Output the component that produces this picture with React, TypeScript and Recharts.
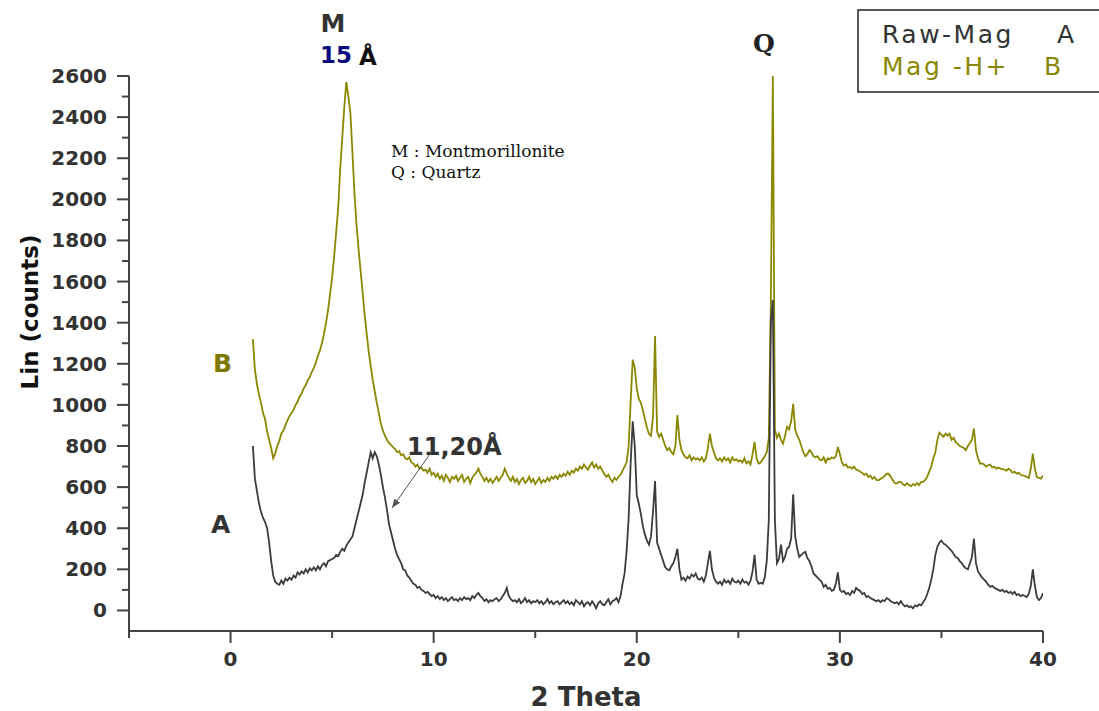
import { LineChart, Line, XAxis, YAxis } from 'recharts';

// 2θ sampling of the scans (degrees)
const THETA_START = 1.1;
const THETA_STEP = 0.1;

// Raw-Mag (A), counts, one row per degree
const rawMag = [
  800, 640, 580, 520, 480, 450, 430, 400, 330, 240,
  170, 140, 130, 125, 145, 130, 155, 145, 160, 150,
  170, 160, 185, 175, 190, 180, 200, 185, 205, 195,
  210, 195, 215, 200, 220, 230, 215, 240, 245, 250,
  255, 270, 265, 285, 300, 290, 315, 330, 345, 360,
  400, 440, 480, 520, 560, 620, 670, 720, 770, 740,
  770, 750, 710, 660, 600, 550, 490, 420, 380, 340,
  300, 270, 250, 230, 200, 195, 170, 160, 145, 130,
  125, 110, 115, 100, 95, 85, 90, 80, 70, 75,
  60, 70, 55, 65, 50, 60, 45, 55, 65, 50,
  55, 45, 60, 50, 65, 55, 60, 50, 70, 60,
  75, 85, 70, 60, 45, 55, 40, 50, 45, 55,
  60, 45, 55, 70, 85, 110, 70, 55, 45, 50,
  40, 55, 35, 45, 60, 40, 50, 35, 45, 40,
  50, 35, 45, 30, 40, 55, 35, 45, 30, 40,
  45, 30, 40, 50, 35, 45, 30, 40, 25, 50,
  40, 30, 45, 20, 35, 40, 25, 45, 30, 10,
  35, 45, 30, 25, 40, 55, 30, 45, 50, 60,
  40, 70, 130, 180, 290, 450, 720, 920, 800, 560,
  520, 470, 410, 370, 340, 320, 360, 480, 630, 330,
  300, 270, 240, 210, 200, 195, 215, 230, 260, 300,
  200, 150, 160, 145, 165, 155, 175, 165, 180, 155,
  150, 160, 140, 170, 230, 290, 200, 160, 140, 130,
  140, 125, 150, 135, 145, 130, 155, 140, 135, 145,
  130, 150, 135, 140, 125, 145, 190, 270, 150, 130,
  135, 130, 160, 240, 440, 1400, 1510, 440, 230, 250,
  320, 240, 260, 300, 310, 350, 565, 360, 300, 260,
  270, 280, 285, 255, 240, 215, 180, 170, 160, 150,
  140, 115, 125, 105, 110, 95, 100, 130, 185, 100,
  90, 95, 80, 85, 75, 95, 85, 110, 100, 95,
  80, 85, 65, 70, 60, 55, 50, 45, 50, 40,
  50, 45, 60, 55, 45, 40, 35, 40, 30, 45,
  30, 20, 25, 16, 20, 10, 25, 20, 30, 25,
  40, 55, 80, 110, 150, 200, 270, 310, 330, 340,
  325, 320, 310, 300, 290, 275, 260, 255, 240, 230,
  215, 205, 200, 230, 260, 349, 230, 190, 175, 160,
  150, 140, 125, 115, 120, 110, 105, 100, 95, 100,
  90, 95, 85, 90, 80, 90, 75, 80, 70, 75,
  70, 65, 80, 120, 200, 120, 65, 50, 60, 85,
];

// Mag -H+ (B), counts
const magH = [
  1320, 1170, 1100, 1050, 1010, 960, 930, 870, 830, 790,
  740, 765, 800, 825, 860, 875, 900, 925, 945, 960,
  975, 1000, 1015, 1040, 1055, 1080, 1095, 1120, 1135, 1160,
  1180, 1205, 1240, 1265, 1300, 1345, 1400, 1460, 1540, 1620,
  1720, 1840, 1960, 2150, 2300, 2450, 2570, 2500, 2420, 2230,
  2030, 1880, 1760, 1655, 1550, 1440, 1350, 1260, 1190, 1120,
  1065, 1010, 960, 910, 876, 850, 830, 815, 805, 795,
  785, 770, 775, 755, 760, 740, 735, 745, 720, 715,
  700, 710, 690, 695, 680, 685, 670, 690, 660, 670,
  650, 665, 640, 655, 630, 660, 645, 625, 650, 640,
  655, 630, 645, 660, 625, 640, 650, 620, 645, 660,
  670, 690, 665, 650, 630, 645, 625, 640, 620, 635,
  650, 630, 645, 660, 690, 665, 645, 630, 650, 625,
  640, 615, 635, 645, 620, 630, 650, 625, 640, 615,
  630, 645, 620, 635, 625, 645, 630, 650, 640, 655,
  640, 660, 650, 665, 655, 675, 660, 680, 670, 690,
  680, 700, 690, 710, 695, 685, 705, 720, 695, 710,
  690, 700, 680, 665, 650, 660, 640, 625, 645, 635,
  650, 660, 680, 700, 720, 800, 1020, 1220, 1180, 1080,
  1030, 1010, 975, 930, 890, 860, 850, 940, 1335, 870,
  845, 860, 830, 800, 780, 790, 770, 760, 800, 950,
  830, 780, 760, 745, 740, 755, 730, 745, 735, 740,
  730, 745, 725, 740, 790, 860, 800, 770, 740, 730,
  740, 725, 745, 730, 740, 720, 745, 730, 735, 725,
  730, 720, 740, 715, 725, 710, 760, 820, 740, 715,
  720, 735, 750, 770, 840, 1500, 2600, 880, 840, 860,
  830, 812, 850, 893, 880, 920, 1005, 880, 850, 830,
  800, 770, 750, 760, 780, 770, 750, 745, 750, 735,
  730, 745, 720, 740, 735, 745, 740, 750, 795, 760,
  720, 705, 710, 695, 698, 690, 700, 685, 682, 675,
  670, 660, 665, 649, 655, 640, 650, 635, 633, 640,
  645, 655, 665, 665, 650, 635, 620, 617, 625, 625,
  615, 608, 620, 610, 605, 615, 609, 620, 610, 625,
  625, 635, 650, 675, 700, 740, 770, 830, 865, 855,
  845, 860, 850, 860, 830, 840, 820, 810, 800, 795,
  790, 780, 800, 815, 830, 885, 780, 740, 714, 715,
  710, 700, 706, 710, 695, 700, 690, 695, 690, 688,
  685, 680, 690, 682, 670, 675, 665, 670, 660, 657,
  655, 650, 645, 690, 763, 690, 649, 645, 641, 657,
];

const xTicks = [-5, 0, 5, 10, 15, 20, 25, 30, 35, 40];
const xLabelled = [0, 10, 20, 30, 40];
const yTicks = [
  0, 100, 200, 300, 400, 500, 600, 700, 800, 900, 1000, 1100, 1200, 1300,
  1400, 1500, 1600, 1700, 1800, 1900, 2000, 2100, 2200, 2300, 2400, 2500, 2600,
];

const data = rawMag.map((a, i) => ({
  theta: Math.round((THETA_START + i * THETA_STEP) * 10) / 10,
  a,
  b: magH[i],
}));

const AXIS = '#444';
const GREY = '#3c3c3c';
const OLIVE = '#8a8800';
const BOLD = { fontFamily: '"DejaVu Sans", sans-serif', fontWeight: 700 };

function YTick({ x, y, payload }: any) {
  const major = payload.value % 200 === 0;
  return (
    <g>
      <line x1={x - (major ? 12 : 7)} x2={x} y1={y} y2={y} stroke={AXIS} strokeWidth={2} />
      {major && (
        <text x={x - 22} y={y} dy={7} textAnchor="end" fontSize={20} fill="#333" style={BOLD}>
          {payload.value}
        </text>
      )}
    </g>
  );
}

function XTick({ x, y, payload }: any) {
  const major = xLabelled.includes(payload.value);
  return (
    <g>
      <line x1={x} x2={x} y1={y} y2={y + (major ? 12 : 7)} stroke={AXIS} strokeWidth={2} />
      {major && (
        <text x={x} y={y + 35} textAnchor="middle" fontSize={20} fill="#333" style={BOLD}>
          {payload.value}
        </text>
      )}
    </g>
  );
}

export default function App() {
  return (
    <div style={{ position: 'absolute', left: 0, top: 0, width: 1099, height: 711, background: '#fff' }}>
      <LineChart width={1099} height={711} data={data} margin={{ top: 76, right: 56, bottom: 40, left: 0 }}>
        <XAxis
          dataKey="theta"
          type="number"
          domain={[-5, 40]}
          ticks={xTicks}
          interval={0}
          height={40}
          tickSize={0}
          tickMargin={0}
          tick={<XTick />}
          stroke={AXIS}
          strokeWidth={2}
          allowDataOverflow
        />
        <YAxis
          type="number"
          domain={[-100, 2600]}
          ticks={yTicks}
          interval={0}
          width={129}
          tickSize={0}
          tickMargin={0}
          tick={<YTick />}
          stroke={AXIS}
          strokeWidth={2}
          allowDataOverflow
        />
        <Line type="linear" dataKey="b" stroke={OLIVE} strokeWidth={1.8} dot={false} isAnimationActive={false} />
        <Line type="linear" dataKey="a" stroke={GREY} strokeWidth={1.8} dot={false} isAnimationActive={false} />
      </LineChart>

      <svg width={1099} height={711} style={{ position: 'absolute', left: 0, top: 0, pointerEvents: 'none' }}>
        <defs>
          <marker id="tip" markerWidth="9" markerHeight="7" refX="9" refY="3.5" orient="auto">
            <path d="M0,0 L9,3.5 L0,7 z" fill="#555" />
          </marker>
        </defs>

        <text x={30} y={312} transform="rotate(-90 30 312)" dy={8} textAnchor="middle" fontSize={23} fill="#111" style={BOLD}>
          Lin (counts)
        </text>
        <text x={586} y={706} textAnchor="middle" fontSize={26} fill="#333" style={BOLD}>
          2 Theta
        </text>

        <text x={333} y={32} textAnchor="middle" fontSize={25} fill="#333" style={BOLD}>M</text>
        <text x={320} y={63} fontSize={23} fill="#0a0a80" style={BOLD}>15</text>
        <text x={359} y={65} fontSize={23} fill="#111" style={BOLD}>Å</text>
        <text x={764} y={52} textAnchor="middle" fontSize={25} fill="#222" fontFamily='"DejaVu Serif", serif' fontWeight={700}>Q</text>

        <text x={391} y={157} fontSize={17} fill="#111" fontFamily='"DejaVu Serif", serif'>M : Montmorillonite</text>
        <text x={391} y={178} fontSize={17} fill="#111" fontFamily='"DejaVu Serif", serif'>Q : Quartz</text>

        <text x={213} y={372} fontSize={25} fill="#7d7800" style={BOLD}>B</text>
        <text x={211} y={533} fontSize={25} fill="#333" style={BOLD}>A</text>

        <text x={407} y={455} fontSize={24} fill="#333" style={BOLD}>11,20Å</text>
        <line x1={432} y1={451} x2={392} y2={508} stroke="#555" strokeWidth={1} markerEnd="url(#tip)" />

        <rect x={858} y={10} width={260} height={82} fill="none" stroke="#222" strokeWidth={1.5} />
        <text x={882} y={43} fontSize={25} fill="#333" letterSpacing={2.5} fontFamily='"DejaVu Sans", sans-serif'>Raw-Mag</text>
        <text x={1057} y={43} fontSize={25} fill="#333" fontFamily='"DejaVu Sans", sans-serif'>A</text>
        <text x={882} y={75} fontSize={25} fill={OLIVE} letterSpacing={2.5} fontFamily='"DejaVu Sans", sans-serif'>Mag -H+</text>
        <text x={1044} y={75} fontSize={25} fill={OLIVE} fontFamily='"DejaVu Sans", sans-serif'>B</text>
      </svg>
    </div>
  );
}
